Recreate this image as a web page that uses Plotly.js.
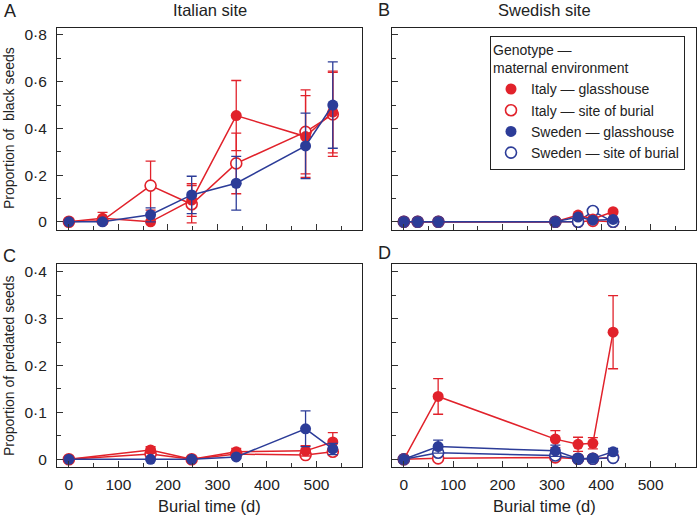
<!DOCTYPE html>
<html>
<head>
<meta charset="utf-8">
<script src="https://cdn.plot.ly/plotly-3.0.1.min.js"></script>
<style>html,body{margin:0;padding:0;background:#fff;}#chart{width:698px;height:515px;}</style>
</head>
<body>
<div id="chart"></div>
<script>
// ---------- DATA ----------
// Italian site: burial times (d)
const xItalyBlack = [0, 68, 165, 248, 338, 478, 533];
const xItalyPred  = [0, 165, 248, 338, 478, 533];
// Swedish site: burial times (d)
const xSwedenBlack = [0, 28, 70, 307, 353, 383, 424];
const xSwedenPred  = [0, 69.5, 307, 353, 383, 424];

// Panel A – proportion of black seeds, Italian site
const aItalyGlass     = [0, 0.015, 0, 0.093, 0.455, 0.365, 0.47];
const aItalyGlassErr  = [0, 0.025, 0, 0.07, 0.15, 0.175, 0.175];
const aItalySite      = [0, 0.005, 0.155, 0.075, 0.25, 0.385, 0.46];
const aItalySiteErr   = [0, 0.01, 0.105, 0.08, 0.13, 0.18, 0.18];
const aSwedenGlass    = [0, 0, 0.03, 0.115, 0.165, 0.325, 0.5];
const aSwedenGlassErr = [0, 0.005, 0.03, 0.08, 0.115, 0.14, 0.185];

// Panel B – proportion of black seeds, Swedish site
const bItalyGlass  = [0, 0, 0, 0, 0.029, 0.012, 0.043];
const bItalySite   = [0, 0, 0, 0, 0, 0.004, 0];
const bSwedenGlass = [0, 0, 0, 0, 0.02, 0.007, 0.01];
const bSwedenSite  = [0, 0, 0, 0, 0, 0.046, 0];

// Panel C – proportion of predated seeds, Italian site
const cItalyGlass     = [0, 0.02, 0, 0.016, 0.018, 0.037];
const cItalyGlassErr  = [0, 0.007, 0, 0.007, 0.011, 0.02];
const cItalySite      = [0, 0.011, 0, 0.011, 0.009, 0.016];
const cItalySiteErr   = [0, 0.005, 0, 0.004, 0.005, 0.007];
const cSwedenGlass    = [0, 0, 0, 0.005, 0.065, 0.022];
const cSwedenGlassErr = [0, 0, 0, 0.003, 0.038, 0.012];

// Panel D – proportion of predated seeds, Swedish site
const dItalyGlass     = [0, 0.134, 0.043, 0.032, 0.034, 0.271];
const dItalyGlassErr  = [0, 0.038, 0.018, 0.015, 0.012, 0.078];
const dItalySite      = [0, 0.002, 0.004, 0.001, 0.001, 0.004];
const dSwedenGlass    = [0, 0.027, 0.018, 0.001, 0.002, 0.016];
const dSwedenGlassErr = [0, 0.014, 0.012, 0, 0, 0.007];
const dSwedenSite     = [0, 0.014, 0.008, 0.001, 0.001, 0.003];

const seriesNames = ['Italy — glasshouse', 'Italy — site of burial', 'Sweden — glasshouse', 'Sweden — site of burial'];
const yTicksBlack = [0, 0.2, 0.4, 0.6, 0.8];
const yTickTextBlack = ['0', '0·2', '0·4', '0·6', '0·8'];
const yTicksPred = [0, 0.1, 0.2, 0.3, 0.4];
const yTickTextPred = ['0', '0·1', '0·2', '0·3', '0·4'];
const xTicks = [0, 100, 200, 300, 400, 500];

// ---------- STYLE ----------
const RED = '#e1222b';
const BLUE = '#2c3c98';
const FONT = 'Liberation Sans, Arial, Helvetica, sans-serif';

function tr(x, y, err, color, open, xa, ya) {
  const t = {
    type: 'scatter', mode: 'lines+markers', x: x, y: y, xaxis: xa, yaxis: ya,
    showlegend: false, hoverinfo: 'x+y',
    line: {color: color, width: 1.5},
    marker: {size: 11, color: open ? '#ffffff' : color, line: {color: color, width: open ? 1.6 : 0}},
    cliponaxis: false
  };
  if (err) t.error_y = {type: 'data', array: err, visible: true, color: color, thickness: 1.3, width: 5};
  return t;
}

const data = [
  // A
  tr(xItalyBlack, aItalySite, aItalySiteErr, RED, true, 'x', 'y'),
  tr(xItalyBlack, aItalyGlass, aItalyGlassErr, RED, false, 'x', 'y'),
  tr(xItalyBlack, aSwedenGlass, aSwedenGlassErr, BLUE, false, 'x', 'y'),
  // B
  tr(xSwedenBlack, bItalySite, null, RED, true, 'x2', 'y2'),
  tr(xSwedenBlack, bSwedenSite, null, BLUE, true, 'x2', 'y2'),
  tr(xSwedenBlack, bItalyGlass, null, RED, false, 'x2', 'y2'),
  tr(xSwedenBlack, bSwedenGlass, null, BLUE, false, 'x2', 'y2'),
  // C
  tr(xItalyPred, cItalySite, cItalySiteErr, RED, true, 'x3', 'y3'),
  tr(xItalyPred, cItalyGlass, cItalyGlassErr, RED, false, 'x3', 'y3'),
  tr(xItalyPred, cSwedenGlass, cSwedenGlassErr, BLUE, false, 'x3', 'y3'),
  // D
  tr(xSwedenPred, dItalySite, null, RED, true, 'x4', 'y4'),
  tr(xSwedenPred, dSwedenSite, null, BLUE, true, 'x4', 'y4'),
  tr(xSwedenPred, dItalyGlass, dItalyGlassErr, RED, false, 'x4', 'y4'),
  tr(xSwedenPred, dSwedenGlass, dSwedenGlassErr, BLUE, false, 'x4', 'y4'),
];

// legend-only entries (markers only)
const legendStyles = [[RED, false], [RED, true], [BLUE, false], [BLUE, true]];
seriesNames.forEach((n, i) => {
  const [c, open] = legendStyles[i];
  data.push({type: 'scatter', mode: 'markers', x: [null], y: [null], xaxis: 'x2', yaxis: 'y2',
    name: n, showlegend: true,
    marker: {size: 11, color: open ? '#ffffff' : c, line: {color: c, width: open ? 1.6 : 0}}});
});

function xax(domain, labels, anchor) {
  return {
    domain: domain, anchor: anchor, range: [-24, 592],
    tickvals: xTicks, ticktext: xTicks.map(String), showticklabels: labels,
    ticks: 'inside', ticklen: 6, tickcolor: '#333', tickwidth: 1,
    minor: {dtick: 50, tick0: 0, ticks: 'inside', ticklen: 3.5, tickcolor: '#333', tickwidth: 1},
    showline: true, mirror: true, linecolor: '#222', linewidth: 1,
    showgrid: false, zeroline: false,
    tickfont: {family: FONT, size: 15.5, color: '#222'}, ticklabelstandoff: 4
  };
}
function yax(domain, range, tv, tt, labels, anchor, minorD) {
  return {
    domain: domain, anchor: anchor, range: range,
    tickvals: tv, ticktext: tt, showticklabels: labels,
    ticks: 'inside', ticklen: 6, tickcolor: '#333', tickwidth: 1,
    minor: {dtick: minorD, tick0: 0, ticks: 'inside', ticklen: 3.5, tickcolor: '#333', tickwidth: 1},
    showline: true, mirror: true, linecolor: '#222', linewidth: 1,
    showgrid: false, zeroline: false,
    tickfont: {family: FONT, size: 15.5, color: '#222'}, ticklabelstandoff: 6
  };
}

const W = 698, H = 515;
const dxL = [57 / W, 362 / W], dxR = [392 / W, 696 / W];
const dyT = [1 - 229.5 / H, 1 - 27.5 / H], dyB = [1 - 466.5 / H, 1 - 264 / H];
const rBlack = [-0.033, 0.832], rPred = [-0.0154, 0.4164];

function ann(text, px, py, size, angle) {
  return {text: text, x: px / W, y: 1 - py / H, xref: 'paper', yref: 'paper',
    xanchor: 'center', yanchor: 'middle', showarrow: false, textangle: angle || 0,
    font: {family: FONT, size: size, color: '#222'}};
}

const layout = {
  width: W, height: H, margin: {l: 0, r: 0, t: 0, b: 0},
  paper_bgcolor: '#fff', plot_bgcolor: '#fff',
  font: {family: FONT, color: '#222'},
  xaxis: xax(dxL, false, 'y'), yaxis: yax(dyT, rBlack, yTicksBlack, yTickTextBlack, true, 'x', 0.1),
  xaxis2: xax(dxR, false, 'y2'), yaxis2: yax(dyT, rBlack, yTicksBlack, yTickTextBlack, false, 'x2', 0.1),
  xaxis3: xax(dxL, true, 'y3'), yaxis3: yax(dyB, rPred, yTicksPred, yTickTextPred, true, 'x3', 0.05),
  xaxis4: xax(dxR, true, 'y4'), yaxis4: yax(dyB, rPred, yTicksPred, yTickTextPred, false, 'x4', 0.05),
  showlegend: true,
  legend: {
    x: 685 / W, y: 1 - 36 / H, xanchor: 'right', yanchor: 'top',
    bgcolor: '#fff', bordercolor: '#222', borderwidth: 1,
    font: {family: FONT, size: 14, color: '#222'},
    title: {text: 'Genotype —<br>maternal environment', font: {family: FONT, size: 14, color: '#222'}},
    itemwidth: 30, tracegroupgap: 0
  },
  annotations: [
    ann('Italian site', 209.5, 10, 16.5),
    ann('Swedish site', 544, 10, 16.5),
    ann('A', 10, 11, 18), ann('B', 384, 10, 18),
    ann('C', 9, 256, 18), ann('D', 384, 253, 18),
    ann('Proportion of  black seeds', 9, 128, 14, -90),
    ann('Proportion of predated seeds', 9, 366, 14, -90),
    ann('Burial time (d)', 209.5, 506, 16.5),
    ann('Burial time (d)', 544, 506, 16.5)
  ]
};

Plotly.newPlot('chart', data, layout, {displayModeBar: false, staticPlot: true});
</script>
</body>
</html>
